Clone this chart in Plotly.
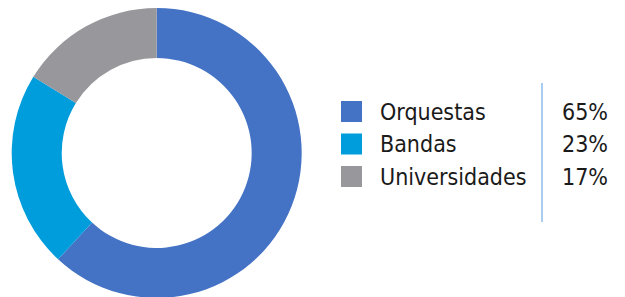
import plotly.graph_objects as go

categories = ["Orquestas", "Bandas", "Universidades"]
values = [65, 23, 17]
pct_labels = ["65%", "23%", "17%"]
colors = ["#4472C4", "#009DDC", "#98979C"]

W, H = 625, 297
OFF = 8  # browser default body margin

def px(x):
    return (x - OFF) / W

def py(y):
    return 1 - (y - OFF) / H

fig = go.Figure()
cx, r = 156.7, 145
fig.add_trace(go.Pie(
    labels=categories,
    values=values,
    hole=0.655,
    sort=False,
    direction="clockwise",
    rotation=0,
    marker=dict(colors=colors, line=dict(width=0)),
    textinfo="none",
    hoverinfo="label+percent",
    showlegend=False,
    domain=dict(x=[px(cx - r), px(cx + r)], y=[7 / H, 1]),
))

font_family = "DejaVu Sans Condensed, Liberation Sans Narrow, sans-serif"
row_y0 = 111.5
row_step = 32.5
shapes = []
annotations = []
for i, (cat, pct, col) in enumerate(zip(categories, pct_labels, colors)):
    cy = row_y0 + i * row_step
    shapes.append(dict(type="rect", xref="paper", yref="paper",
                       x0=px(341), x1=px(362), y0=py(cy - 10.5), y1=py(cy + 10.5),
                       fillcolor=col, line=dict(width=0)))
    annotations.append(dict(text=cat, xref="paper", yref="paper",
                            x=px(378), y=py(cy), xanchor="left", yanchor="middle",
                            showarrow=False, font=dict(size=23, color="#1a1a1a", family=font_family)))
    annotations.append(dict(text=pct, xref="paper", yref="paper",
                            x=px(610), y=py(cy), xanchor="right", yanchor="middle",
                            showarrow=False, font=dict(size=23, color="#1a1a1a", family=font_family)))

shapes.append(dict(type="line", xref="paper", yref="paper",
                   x0=px(542), x1=px(542), y0=py(83), y1=py(222),
                   line=dict(color="#A9CDEE", width=2)))

fig.update_layout(
    width=W, height=H,
    margin=dict(l=0, r=0, t=0, b=0),
    paper_bgcolor="white",
    plot_bgcolor="white",
    shapes=shapes,
    annotations=annotations,
)

fig.write_html("out.html")
